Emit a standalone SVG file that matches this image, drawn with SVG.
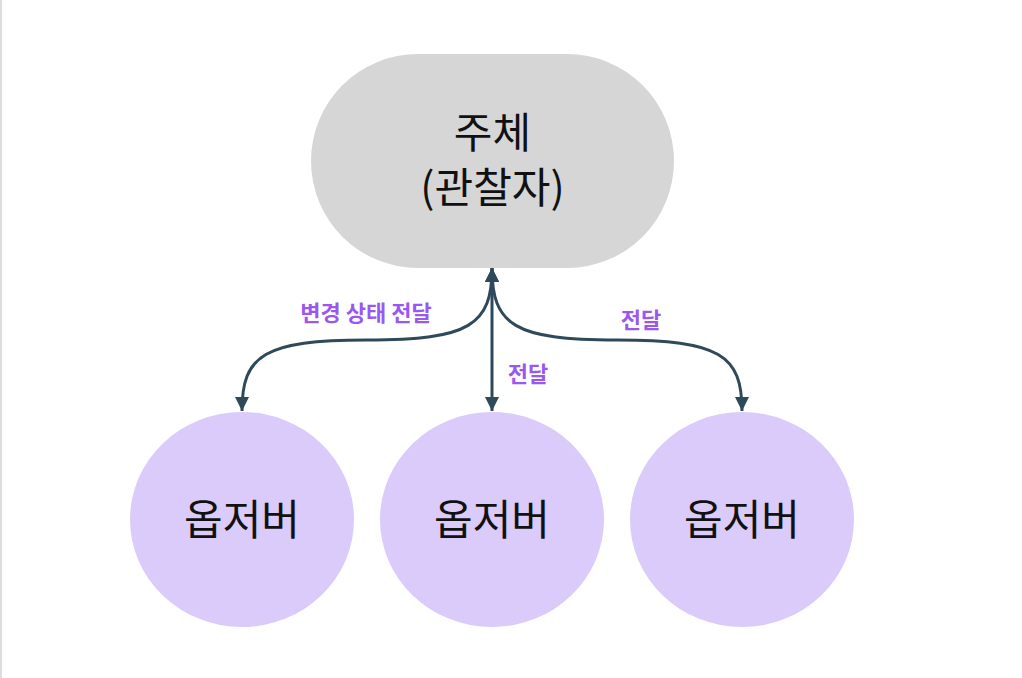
<svg xmlns="http://www.w3.org/2000/svg" width="1022" height="678" viewBox="0 0 1022 678">
<style>
.lbl{font-family:"Noto Sans CJK KR","Noto Sans",sans-serif;font-size:42px;fill:#111;text-anchor:middle}
.elbl{font-family:"Noto Sans CJK KR","Noto Sans",sans-serif;font-size:22px;font-weight:bold;fill:#9a58f0;text-anchor:middle}
.edge{fill:none;stroke:#2e4a5a;stroke-width:3}
.obs{fill:#dacbfb}
</style>
<defs>
<marker id="ah" viewBox="0 0 10 10" refX="10" refY="5" markerWidth="14" markerHeight="14" markerUnits="userSpaceOnUse" orient="auto-start-reverse">
<path d="M0,0 L10,5 L0,10 z" fill="#2e4a5a"/>
</marker>
</defs>
<rect x="0" y="0" width="1022" height="678" fill="#fff"/>
<line x1="1" y1="0" x2="1" y2="678" stroke="#dcdcdc" stroke-width="2"/>
<g id="subject">
<rect x="311" y="54" width="363" height="214" rx="107" ry="107" fill="#d6d6d6"/>
<text class="lbl" x="492.5" y="148">주체</text>
<text class="lbl" x="492.5" y="203">(관찰자)</text>
</g>
<g id="observer1">
<ellipse class="obs" cx="242" cy="519.5" rx="112" ry="107.5"/>
<text class="lbl" x="242" y="535">옵저버</text>
</g>
<g id="observer2">
<ellipse class="obs" cx="492" cy="519.5" rx="112" ry="107.5"/>
<text class="lbl" x="492" y="535">옵저버</text>
</g>
<g id="observer3">
<ellipse class="obs" cx="742" cy="519.5" rx="112" ry="107.5"/>
<text class="lbl" x="742" y="535">옵저버</text>
</g>
<g id="connectors">
<path class="edge" d="M492,268 C492,325 470,340 367,340 C264,340 242,355 242,411" marker-start="url(#ah)" marker-end="url(#ah)"/>
<path class="edge" d="M492,268 L492,411" marker-start="url(#ah)" marker-end="url(#ah)"/>
<path class="edge" d="M492,268 C492,325 514,340 617,340 C720,340 742,355 742,411" marker-start="url(#ah)" marker-end="url(#ah)"/>
<text class="elbl" x="366" y="321">변경 상태 전달</text>
<text class="elbl" x="528" y="382">전달</text>
<text class="elbl" x="641" y="328">전달</text>
</g>
</svg>
